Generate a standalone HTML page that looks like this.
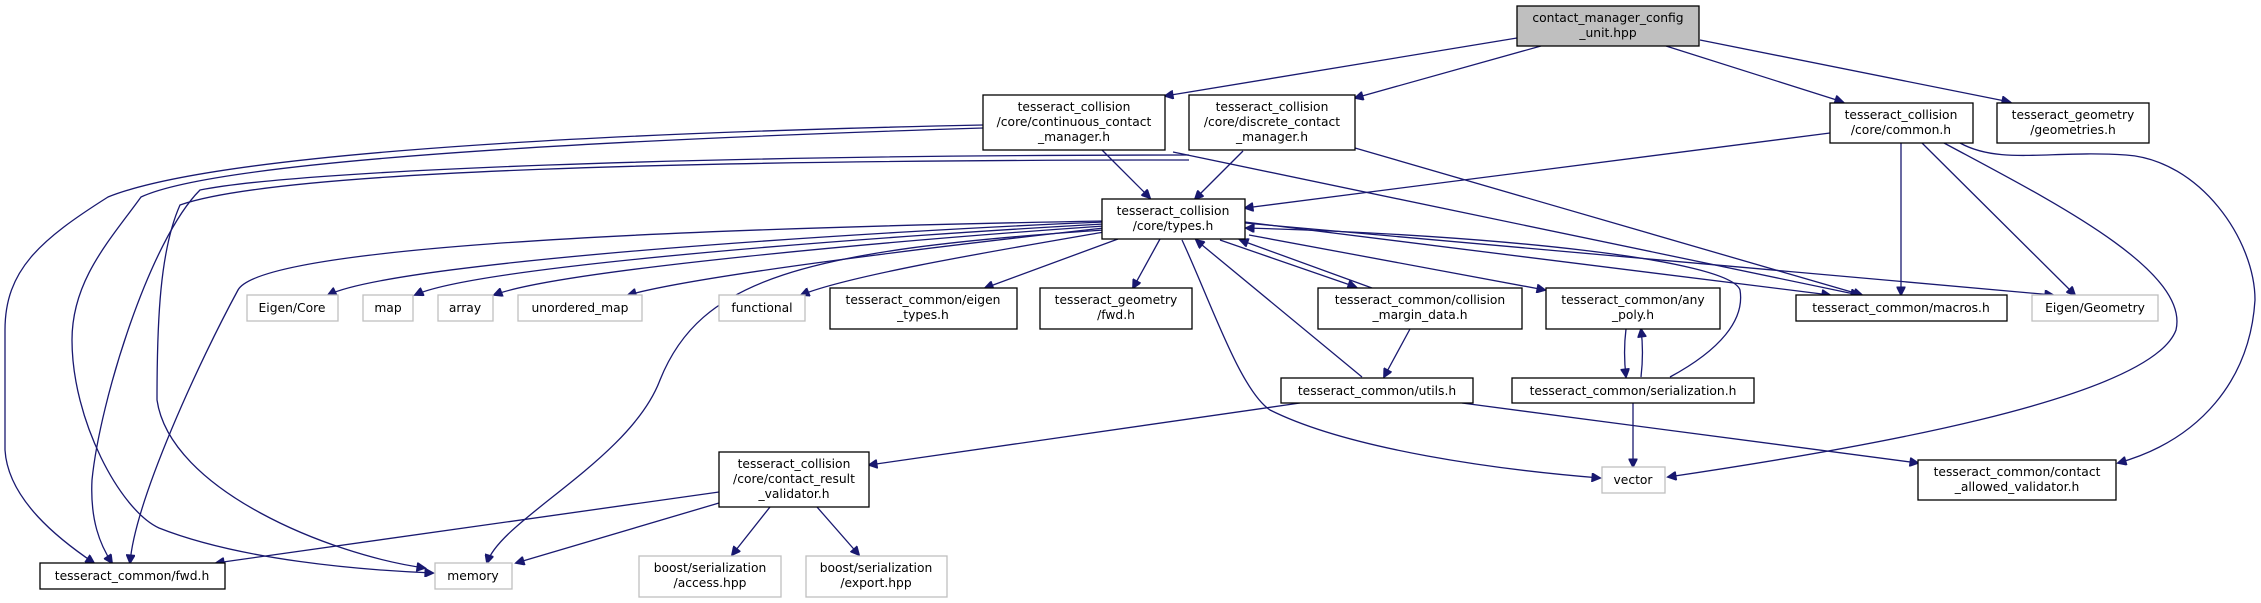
<!DOCTYPE html>
<html><head><meta charset="utf-8"><style>
html,body{margin:0;padding:0;background:#fff;}
svg{display:block;}
text{font-family:"DejaVu Sans","Liberation Sans",sans-serif;font-size:12.3px;fill:#000;text-anchor:middle;}
.e{fill:none;stroke:#191970;stroke-width:1.3;}
.b{fill:#fff;stroke:#000;stroke-width:1.3;}
.g{fill:#fff;stroke:#bfbfbf;stroke-width:1.3;}
</style></head><body>
<svg width="2261" height="603" viewBox="0 0 2261 603" xmlns="http://www.w3.org/2000/svg">
<defs><marker id="a" viewBox="0 0 10 10" refX="9" refY="5" markerWidth="11" markerHeight="9" orient="auto" markerUnits="userSpaceOnUse"><path d="M0,0 L10,5 L0,10 z" fill="#191970" stroke="#191970"/></marker></defs>
<g marker-end="url(#a)">
<path class="e" d="M1517,38 L1165,96"/>
<path class="e" d="M1541,46 L1355,98"/>
<path class="e" d="M1666,46 L1843,102"/>
<path class="e" d="M1700,40 L2010,102"/>
<path class="e" d="M1102,150 L1150,198"/>
<path class="e" d="M1243,151 L1195,199"/>
<path class="e" d="M983,125 C500,135 200,160 108,197 C40,240 5,270 5,330 L5,450 C8,500 60,540 94,563"/>
<path class="e" d="M983,128 C600,140 220,160 141,197 C110,240 72,280 72,340 C72,420 120,510 159,528 C240,560 360,570 433,573"/>
<path class="e" d="M1189,155 C700,155 300,170 200,190 C150,240 100,400 92,480 C90,520 100,545 112,563"/>
<path class="e" d="M1189,160 C700,160 280,170 180,205 C160,250 157,320 157,400 C170,490 330,555 425,568"/>
<path class="e" d="M1173,152 L1859,295"/>
<path class="e" d="M1355,148 L1862,295"/>
<path class="e" d="M1104,222 C900,230 400,260 328,295"/>
<path class="e" d="M1104,224 C900,235 480,265 415,295"/>
<path class="e" d="M1104,226 C900,240 560,270 494,295"/>
<path class="e" d="M1104,228 C950,245 700,275 628,295"/>
<path class="e" d="M1104,232 C1000,250 850,275 801,295"/>
<path class="e" d="M1118,239 L985,288"/>
<path class="e" d="M1160,239 L1133,288"/>
<path class="e" d="M1104,230 C800,250 700,280 660,380 C630,460 500,520 487,563"/>
<path class="e" d="M1104,221 C600,230 260,250 238,290 C200,360 135,500 130,563"/>
<path class="e" d="M1182,240 C1210,300 1240,390 1270,410 C1350,450 1500,470 1600,478"/>
<path class="e" d="M1220,240 L1356,287"/>
<path class="e" d="M1372,288 L1240,240"/>
<path class="e" d="M1249,235 L1545,290"/>
<path class="e" d="M1245,222 L1830,295"/>
<path class="e" d="M1245,223 L2053,295"/>
<path class="e" d="M1830,133 L1245,208"/>
<path class="e" d="M1670,377 C1720,350 1745,320 1740,290 C1730,260 1500,235 1246,228"/>
<path class="e" d="M1901,143 L1901,295"/>
<path class="e" d="M1922,143 L2075,295"/>
<path class="e" d="M1944,143 C2050,200 2190,270 2176,330 C2150,400 1850,450 1668,477"/>
<path class="e" d="M1960,143 C2000,165 2050,150 2126,155 C2200,160 2255,240 2255,300 C2250,380 2200,440 2118,463"/>
<path class="e" d="M1410,329 L1384,377"/>
<path class="e" d="M1362,377 L1196,240"/>
<path class="e" d="M1626,329 C1624,345 1624,360 1626,377"/>
<path class="e" d="M1641,377 C1643,360 1643,345 1641,329"/>
<path class="e" d="M1633,403 L1633,467"/>
<path class="e" d="M1462,403 L1918,463"/>
<path class="e" d="M1300,403 L869,465"/>
<path class="e" d="M719,492 L216,563"/>
<path class="e" d="M719,503 L516,563"/>
<path class="e" d="M770,507 L732,555"/>
<path class="e" d="M817,507 L859,555"/>
</g>
<rect x="1517" y="6" width="182" height="40" fill="#bfbfbf" stroke="#000" stroke-width="1.3"/>
<text x="1608" y="22">contact_manager_config</text><text x="1608" y="37">_unit.hpp</text>

<rect class="b" x="983" y="95" width="182" height="55"/>
<text x="1074" y="111">tesseract_collision</text><text x="1074" y="126">/core/continuous_contact</text><text x="1074" y="141">_manager.h</text>

<rect class="b" x="1189" y="95" width="166" height="55"/>
<text x="1272" y="111">tesseract_collision</text><text x="1272" y="126">/core/discrete_contact</text><text x="1272" y="141">_manager.h</text>

<rect class="b" x="1830" y="103" width="143" height="40"/>
<text x="1901" y="119">tesseract_collision</text><text x="1901" y="134">/core/common.h</text>

<rect class="b" x="1997" y="103" width="152" height="40"/>
<text x="2073" y="119">tesseract_geometry</text><text x="2073" y="134">/geometries.h</text>

<rect class="b" x="1102" y="199" width="143" height="40"/>
<text x="1173" y="215">tesseract_collision</text><text x="1173" y="230">/core/types.h</text>

<rect class="g" x="247" y="295" width="91" height="26"/><text x="292" y="312">Eigen/Core</text>
<rect class="g" x="363" y="295" width="50" height="26"/><text x="388" y="312">map</text>
<rect class="g" x="438" y="295" width="55" height="26"/><text x="465" y="312">array</text>
<rect class="g" x="518" y="295" width="124" height="26"/><text x="580" y="312">unordered_map</text>
<rect class="g" x="719" y="295" width="86" height="26"/><text x="762" y="312">functional</text>

<rect class="b" x="830" y="288" width="187" height="41"/>
<text x="923" y="304">tesseract_common/eigen</text><text x="923" y="319">_types.h</text>
<rect class="b" x="1040" y="288" width="152" height="41"/>
<text x="1116" y="304">tesseract_geometry</text><text x="1116" y="319">/fwd.h</text>
<rect class="b" x="1318" y="288" width="204" height="41"/>
<text x="1420" y="304">tesseract_common/collision</text><text x="1420" y="319">_margin_data.h</text>
<rect class="b" x="1546" y="288" width="174" height="41"/>
<text x="1633" y="304">tesseract_common/any</text><text x="1633" y="319">_poly.h</text>
<rect class="b" x="1796" y="295" width="211" height="26"/><text x="1901" y="312">tesseract_common/macros.h</text>
<rect class="g" x="2032" y="295" width="126" height="26"/><text x="2095" y="312">Eigen/Geometry</text>

<rect class="b" x="1281" y="378" width="192" height="25"/><text x="1377" y="395">tesseract_common/utils.h</text>
<rect class="b" x="1512" y="378" width="242" height="25"/><text x="1633" y="395">tesseract_common/serialization.h</text>

<rect class="g" x="1602" y="467" width="63" height="26"/><text x="1633" y="484">vector</text>
<rect class="b" x="1918" y="460" width="198" height="40"/>
<text x="2017" y="476">tesseract_common/contact</text><text x="2017" y="491">_allowed_validator.h</text>

<rect class="b" x="719" y="452" width="150" height="55"/>
<text x="794" y="468">tesseract_collision</text><text x="794" y="483">/core/contact_result</text><text x="794" y="498">_validator.h</text>

<rect class="b" x="40" y="563" width="185" height="26"/><text x="132" y="580">tesseract_common/fwd.h</text>
<rect class="g" x="435" y="563" width="77" height="26"/><text x="473" y="580">memory</text>
<rect class="g" x="639" y="556" width="142" height="41"/>
<text x="710" y="572">boost/serialization</text><text x="710" y="587">/access.hpp</text>
<rect class="g" x="806" y="556" width="141" height="41"/>
<text x="876" y="572">boost/serialization</text><text x="876" y="587">/export.hpp</text>
</svg>
</body></html>
